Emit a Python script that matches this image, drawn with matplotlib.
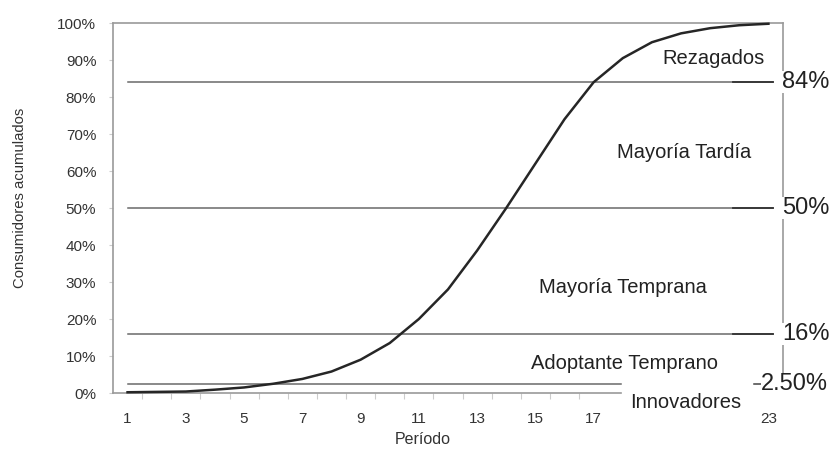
import matplotlib
matplotlib.use("Agg")
import matplotlib.pyplot as plt
from matplotlib.ticker import FixedLocator

plt.rcParams['font.family'] = ['Liberation Sans', 'DejaVu Sans']

# ---- data ----
periods = list(range(1, 24))
cumulative = [0.2, 0.3, 0.4, 0.9, 1.5, 2.5, 3.8, 5.8, 9.0, 13.5, 20.0, 28.0,
              38.5, 50.0, 62.0, 74.0, 84.0, 90.5, 94.8, 97.2, 98.6, 99.4, 99.8]
x_tick_values = [1, 3, 5, 7, 9, 11, 13, 15, 17, 23]
y_tick_values = [0, 10, 20, 30, 40, 50, 60, 70, 80, 90, 100]
y_tick_labels = [f"{v}%" for v in y_tick_values]
thresholds = [84, 50, 16, 2.5]
threshold_labels = ["84%", "50%", "16%", "2.50%"]
segment_names = ["Rezagados", "Mayoría Tardía", "Mayoría Temprana",
                 "Adoptante Temprano", "Innovadores"]
segment_pos = [(21.1, 90.3), (20.1, 65.1), (18.0, 28.4), (18.05, 8.1), (20.15, -2.7)]

fig = plt.figure(figsize=(8.32, 4.51), dpi=100)
ax = fig.add_axes([0.1358, 0.1286, 0.8053, 0.8204])
ax.set_xlim(0.5, 23.5)
ax.set_ylim(0, 100)

# spines
for s in ['top', 'right', 'left', 'bottom']:
    ax.spines[s].set_color('#9a9a9a')
    ax.spines[s].set_linewidth(1.2)
ax.spines['bottom'].set_bounds(0.5, 17.93)
ax.spines['right'].set_bounds(5.4, 100)

# threshold lines
for t in thresholds:
    if t == 2.5:
        ax.plot([1, 17.93], [t, t], color='#6a6a6a', lw=1.1, zorder=2, clip_on=False)
        ax.plot([22.5, 22.75], [t, t], color='#444444', lw=1.1, zorder=2, clip_on=False)
    else:
        ax.plot([1, 23.17], [t, t], color='#6a6a6a', lw=1.1, zorder=2, clip_on=False)
        ax.plot([21.8, 23.17], [t, t], color='#333333', lw=1.3, zorder=2, clip_on=False)

# curve
ax.plot(periods, cumulative, color='#262626', lw=1.8, zorder=3, clip_on=False)

# threshold labels (right side)
for t, lab in zip(thresholds, threshold_labels):
    lx = 22.75 if t == 2.5 else 23.48
    ax.text(lx, t, lab, fontsize=17, color='#222222', ha='left', va='center',
            clip_on=False, zorder=6,
            bbox=dict(facecolor='white', edgecolor='none', pad=0.0))

# segment labels
for name, (sx, sy) in zip(segment_names, segment_pos):
    ax.text(sx, sy, name, fontsize=14.5, color='#222222', ha='center', va='center',
            clip_on=False, zorder=5)

# ticks
ax.set_xticks(x_tick_values)
ax.set_xticklabels([str(v) for v in x_tick_values])
ax.xaxis.set_minor_locator(FixedLocator([i + 0.5 for i in range(1, 17)]))
ax.tick_params(axis='x', which='major', length=0, pad=14, labelsize=11, labelcolor='#333333')
ax.tick_params(axis='x', which='minor', length=4, color='#cccccc', width=0.8)
ax.set_yticks(y_tick_values)
ax.set_yticklabels(y_tick_labels)
ax.tick_params(axis='y', length=3, color='#cccccc', pad=9, labelsize=11, labelcolor='#333333')

ax.set_xlabel("Período", fontsize=11.5, color='#333333', va='center')
ax.xaxis.set_label_coords(0.463, -0.127)
ax.set_ylabel("Consumidores acumulados", fontsize=10.7, color='#333333', va='center')
ax.yaxis.set_label_coords(-0.139, 0.527)

fig.savefig("out.png", dpi=100)
